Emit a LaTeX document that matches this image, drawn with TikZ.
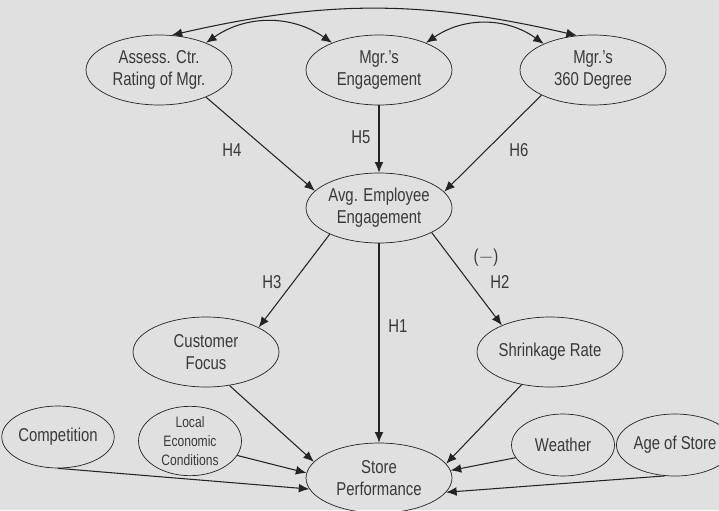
\documentclass[tikz,border=0pt]{standalone}
\usepackage{fontspec}
\setmainfont[FakeStretch=0.8]{Liberation Sans}
\usetikzlibrary{arrows.meta,shapes.geometric}
\definecolor{bggray}{RGB}{224,224,224}
\definecolor{ink}{RGB}{35,35,35}
\tikzstyle{construct}=[draw=ink,ellipse,text=ink!90,align=center,inner sep=0pt,minimum width=2.92cm,minimum height=1.4cm,font=\fontsize{10.6}{12.5}\selectfont]
\tikzstyle{control}=[construct,minimum width=2.06cm,minimum height=1.24cm]
\tikzstyle{hyp}=[text=ink!90,font=\fontsize{10.6}{12.5}\selectfont]
\tikzstyle{myarrow}=[draw=ink,line width=0.6pt,-{Latex[length=6pt,width=5pt]}]
\tikzstyle{myboth}=[draw=ink,line width=0.6pt,{Latex[length=6pt,width=5pt]}-{Latex[length=6pt,width=5pt]}]

\begin{document}
\begin{tikzpicture}[x=0.02cm,y=-0.02cm]
		\fill[bggray] (0,0) rectangle (719,510);
		\useasboundingbox (0,0) rectangle (719,510);

		\node[construct] (acr) at (159,70) {Assess. Ctr.\\Rating of Mgr.};
		\node[construct] (mge) at (379,70) {Mgr.'s\\Engagement};
		\node[construct] (m360) at (593,70) {Mgr.'s\\360 Degree};
		\node[construct] (avg) at (379,208) {Avg. Employee\\Engagement};
		\node[construct] (cf) at (206,352) {Customer\\Focus};
		\node[construct] (sr) at (550,352) {Shrinkage Rate};
		\node[construct] (sp) at (379,478) {Store\\Performance};
		\node[control] (comp) at (58,437) {Competition};
		\node[control,font=\fontsize{8.6}{10.8}\selectfont] (lec) at (190,441) {Local\\Economic\\Conditions};
		\node[control] (wea) at (563,445) {Weather};
		\node[control] (age) at (675,445) {Age of Store};

		% correlations among manager measures
		\draw[myboth] (acr.70) to[bend left=13] (m360.115);
		\draw[myboth] (acr.30) to[bend left=35] (mge.150);
		\draw[myboth] (mge.30) to[bend left=35] (m360.152);

		\draw[myarrow] (acr.-30) -- (avg.165);
		\draw[myarrow] (mge) -- (avg);
		\draw[myarrow] (m360.206) -- (avg.14);
		\draw[myarrow] (avg.208) -- (cf.25);
		\draw[myarrow] (avg.335) -- (sr.151);
		\draw[myarrow] (avg) -- (sp);
		\draw[myarrow] (cf.305) -- (sp.166);
		\draw[myarrow] (sr.229) -- (sp.12);
		\draw[myarrow] (comp.270) -- (sp.189);
		\draw[myarrow] (lec.-17) -- (sp.176);
		\draw[myarrow] (wea.195) -- (sp.6);
		\draw[myarrow] (age.252) -- (sp.-12);

		\node[hyp] (h4) at (232,150) {H4};
		\node[hyp] (h5) at (361,137) {H5};
		\node[hyp] (h6) at (519,150) {H6};
		\node[hyp] (h3) at (272,282) {H3};
		\node[hyp] (neg) at (486,258) {($-$)};
		\node[hyp] (h2) at (500,282) {H2};
		\node[hyp] (h1) at (398,326) {H1};
	\end{tikzpicture}
\end{document}
